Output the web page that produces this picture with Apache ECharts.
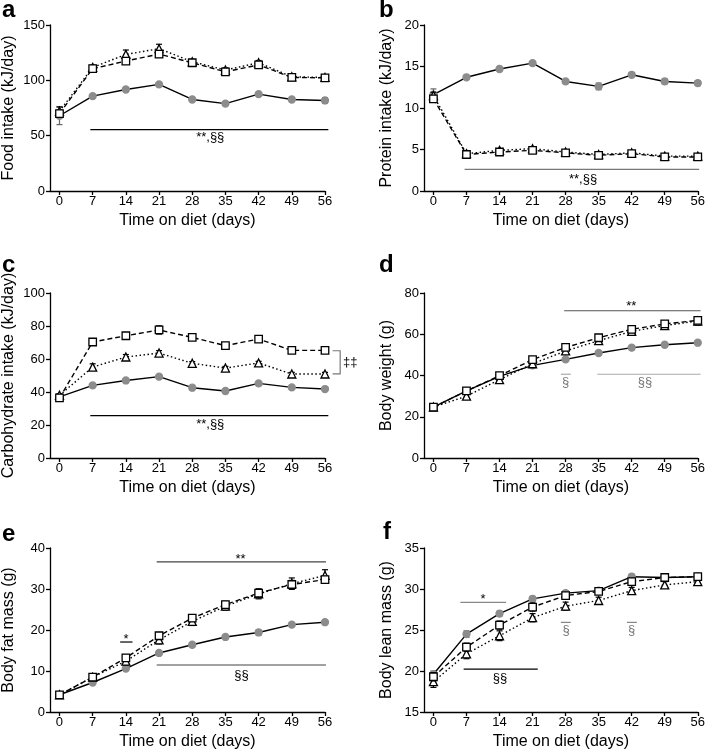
<!DOCTYPE html>
<html><head><meta charset="utf-8">
<script src="https://cdn.jsdelivr.net/npm/echarts@6/dist/echarts.min.js"></script>
<style>html,body{margin:0;padding:0;background:#fff}#c{width:708px;height:752px}</style>
</head><body><div id="c"></div>
<script>
// ---------- data ----------
const days = [0, 7, 14, 21, 28, 35, 42, 49, 56];

// a: food intake (kJ/day)
const foodCtrl = [68, 85.7, 91.7, 96.3, 82.7, 79, 87.5, 82.7, 81.8];
const foodSq   = [70, 110.5, 117.4, 123.7, 115.9, 107.7, 114, 102.6, 102.3];
const foodTri  = [72, 111.7, 123.4, 128.6, 116.8, 109.3, 115.9, 103.2, 102.6];
const foodCtrlErr = [8, 1, 1, 1, 1, 1, 1, 1, 2.5];
const foodSqErr   = [3, 2, 2, 3, 2, 2, 2, 2, 2];
const foodTriErr  = [4, 2, 4, 4, 2, 2, 2, 1, 1];

// b: protein intake (kJ/day)
const protCtrl = [11.6, 13.7, 14.7, 15.4, 13.2, 12.6, 14.0, 13.2, 13.0];
const protSq   = [11.1, 4.4, 4.7, 4.9, 4.6, 4.3, 4.5, 4.1, 4.1];
const protTri  = [11.5, 4.5, 4.9, 5.1, 4.7, 4.4, 4.6, 4.2, 4.2];
const protCtrlErr = [0.7, 0.2, 0.2, 0.2, 0.2, 0.4, 0.2, 0.3, 0.3];
const protSqErr   = [0.4, 0.2, 0.2, 0.2, 0.2, 0.2, 0.2, 0.2, 0.2];
const protTriErr  = [0.4, 0.2, 0.2, 0.2, 0.2, 0.2, 0.2, 0.1, 0.1];

// c: carbohydrate intake (kJ/day)
const carbCtrl = [37, 44, 47, 49.3, 42.6, 40.6, 45.2, 42.8, 41.8];
const carbSq   = [36.4, 70.3, 74.1, 77.6, 73.1, 68.1, 72.1, 65.2, 65.2];
const carbTri  = [38, 55.1, 61.2, 63.6, 57.4, 54.5, 57.6, 50.9, 50.9];
const carbCtrlErr = [1, 0.5, 0.5, 0.5, 0.5, 0.5, 0.5, 0.5, 0.5];
const carbSqErr   = [1.5, 1.5, 1.5, 2.5, 1.5, 1.5, 1.5, 1.5, 1.5];
const carbTriErr  = [1, 2, 1.5, 1.5, 1, 1, 1, 1, 1];

// d: body weight (g)
const bwCtrl = [24.7, 32.5, 39.6, 44.9, 47.8, 50.9, 53.5, 54.9, 55.9];
const bwSq   = [24.7, 32.5, 39.9, 47.7, 53.6, 58.3, 62.4, 65, 66.7];
const bwTri  = [24.7, 30, 38, 45.7, 51.9, 56.9, 61.4, 64.2, 66.4];
const bwCtrlErr = [0.5, 0.5, 0.5, 0.5, 0.5, 0.5, 0.5, 0.5, 0.5];
const bwSqErr   = [1, 1, 1, 1, 1.5, 1.5, 1.5, 1.5, 1.5];
const bwTriErr  = [1, 1.5, 1.5, 1.5, 1.5, 1.5, 1.5, 1.5, 2];

// e: body fat mass (g)
const fatCtrl = [4.2, 7.2, 10.6, 14.4, 16.4, 18.3, 19.4, 21.3, 21.9];
const fatSq   = [4.2, 8.5, 13.2, 18.6, 22.9, 26.2, 29.0, 31.1, 32.3];
const fatTri  = [4.2, 8.5, 12.4, 17.6, 22.1, 25.8, 28.8, 31.3, 33.3];
const fatCtrlErr = [0.3, 0.3, 0.3, 0.3, 0.3, 0.3, 0.6, 0.3, 0.3];
const fatSqErr   = [0.5, 0.5, 0.8, 0.8, 0.8, 0.8, 1, 1, 0.8];
const fatTriErr  = [0.5, 0.5, 1, 1, 1, 1, 1.2, 1.4, 1.4];

// f: body lean mass (g)
const leanCtrl = [19.6, 24.5, 27.0, 28.8, 29.5, 29.8, 31.5, 31.4, 31.5];
const leanSq   = [19.3, 22.9, 25.6, 27.8, 29.2, 29.7, 30.9, 31.4, 31.5];
const leanTri  = [18.7, 22.1, 24.3, 26.5, 27.9, 28.6, 29.8, 30.5, 30.9];
const leanCtrlErr = [0.4, 0.4, 0.3, 0.3, 0.3, 0.3, 0.3, 0.3, 0.3];
const leanSqErr   = [0.5, 0.5, 0.5, 0.5, 0.3, 0.3, 0.4, 0.3, 0.3];
const leanTriErr  = [0.7, 0.6, 0.6, 0.5, 0.5, 0.4, 0.4, 0.4, 0.4];

// significance annotations (data coordinates)
const annA = [{x1: 6.5, x2: 56.7, y: 55.5, c: '#000'}, {tx: 31.8, ty: 48, t: '**,§§'}];
const annB = [{x1: 6.6, x2: 56.3, y: 2.6, c: '#777'}, {tx: 31.7, ty: 1.4, t: '**,§§'}];
const annC = [{x1: 6.5, x2: 56.7, y: 25.7, c: '#000'}, {tx: 31.8, ty: 20.2, t: '**,§§'},
  {pts: [[57.6, 65], [59.2, 65], [59.2, 51], [57.6, 51]], c: '#777'}, {tx: 61.3, ty: 58, t: '‡‡'}];
const annD = [{x1: 27.7, x2: 56.6, y: 71.4, c: '#555'}, {tx: 41.9, ty: 73.4, t: '**'},
  {x1: 27, x2: 29.1, y: 40.6, c: '#aaa'}, {tx: 28, ty: 36.8, t: '§', tc: '#777'},
  {x1: 34.7, x2: 56.6, y: 40.6, c: '#aaa'}, {tx: 44.8, ty: 36.8, t: '§§', tc: '#777'}];
const annE = [{x1: 20.5, x2: 56.2, y: 36.6, c: '#444'}, {tx: 38.2, ty: 37.2, t: '**'},
  {x1: 12.8, x2: 15.4, y: 17.07, c: '#000'}, {tx: 14.05, ty: 17.7, t: '*'},
  {x1: 20.5, x2: 56.2, y: 11.46, c: '#444'}, {tx: 38.4, ty: 9.0, t: '§§'}];
const annF = [{x1: 5.7, x2: 15.4, y: 28.37, c: '#888'}, {tx: 10.5, ty: 28.7, t: '*'},
  {x1: 6.4, x2: 22.1, y: 20.24, c: '#000'}, {tx: 14.1, ty: 19.1, t: '§§'},
  {x1: 27, x2: 29.1, y: 25.93, c: '#888'}, {tx: 28.1, ty: 24.95, t: '§', tc: '#777'},
  {x1: 41, x2: 43.1, y: 25.93, c: '#888'}, {tx: 42, ty: 24.95, t: '§', tc: '#777'}];

// ---------- layout ----------
const FONT = '"Liberation Sans", Arial, Helvetica, sans-serif';
const panels = [
  {letter: 'a', lx: 2, ly: 10.4, yName: 'Food intake (kJ/day)', min: 0, max: 150, step: 50,
   s: [foodCtrl, foodSq, foodTri], e: [foodCtrlErr, foodSqErr, foodTriErr], ann: annA,
   grid: {left: 50, top: 25, width: 275, height: 166}, gap: 33},
  {letter: 'b', lx: 379, ly: 10.4, yName: 'Protein intake (kJ/day)', min: 0, max: 20, step: 5,
   s: [protCtrl, protSq, protTri], e: [protCtrlErr, protSqErr, protTriErr], ann: annB,
   grid: {left: 424, top: 25, width: 277, height: 166}, gap: 29.5},
  {letter: 'c', lx: 2, ly: 265.4, yName: 'Carbohydrate intake (kJ/day)', min: 0, max: 100, step: 20,
   s: [carbCtrl, carbSq, carbTri], e: [carbCtrlErr, carbSqErr, carbTriErr], ann: annC,
   grid: {left: 50, top: 293, width: 275, height: 165}, gap: 33},
  {letter: 'd', lx: 379, ly: 265.4, yName: 'Body weight (g)', min: 0, max: 80, step: 20,
   s: [bwCtrl, bwSq, bwTri], e: [bwCtrlErr, bwSqErr, bwTriErr], ann: annD,
   grid: {left: 424, top: 293, width: 277, height: 165}, gap: 29},
  {letter: 'e', lx: 2, ly: 534.4, yName: 'Body fat mass (g)', min: 0, max: 40, step: 10,
   s: [fatCtrl, fatSq, fatTri], e: [fatCtrlErr, fatSqErr, fatTriErr], ann: annE,
   grid: {left: 50, top: 548, width: 275, height: 164}, gap: 33},
  {letter: 'f', lx: 383, ly: 532.4, yName: 'Body lean mass (g)', min: 15, max: 35, step: 5,
   s: [leanCtrl, leanSq, leanTri], e: [leanCtrlErr, leanSqErr, leanTriErr], ann: annF,
   grid: {left: 424, top: 548, width: 277, height: 164}, gap: 29}
];

const styles = [
  {symbol: 'circle', size: 7, fill: '#8c8c8c', border: '#8c8c8c', dash: 'solid', err: '#666', z: 3},
  {symbol: 'rect', size: 7.5, fill: '#fff', border: '#000', dash: [5, 3], err: '#000', z: 5},
  {symbol: 'triangle', size: 8, fill: '#fff', border: '#000', dash: [1.5, 2.5], err: '#000', z: 4}
];

function errRender(color) {
  return function (params, api) {
    const x = api.value(0), lo = api.value(1), hi = api.value(2);
    const p1 = api.coord([x, lo]), p2 = api.coord([x, hi]);
    const w = 3;
    const st = {stroke: color, lineWidth: 1.2};
    return {type: 'group', children: [
      {type: 'line', shape: {x1: p1[0], y1: p1[1], x2: p2[0], y2: p2[1]}, style: st},
      {type: 'line', shape: {x1: p1[0] - w, y1: p1[1], x2: p1[0] + w, y2: p1[1]}, style: st},
      {type: 'line', shape: {x1: p2[0] - w, y1: p2[1], x2: p2[0] + w, y2: p2[1]}, style: st}
    ]};
  };
}

function annRender(anns) {
  return function (params, api) {
    const a = anns[params.dataIndex];
    if (a.pts) {
      return {type: 'polyline', shape: {points: a.pts.map(p => api.coord(p))},
        style: {stroke: a.c, lineWidth: 1.2, fill: null}};
    }
    if (a.t !== undefined) {
      const p = api.coord([a.tx, a.ty]);
      return {type: 'text', x: p[0], y: p[1],
        style: {text: a.t, fill: a.tc || '#000', font: '13px ' + FONT, align: 'center', verticalAlign: 'middle'}};
    }
    const p1 = api.coord([a.x1, a.y]), p2 = api.coord([a.x2, a.y]);
    return {type: 'line', shape: {x1: p1[0], y1: p1[1], x2: p2[0], y2: p2[1]},
      style: {stroke: a.c, lineWidth: 1.2}};
  };
}

const option = {
  animation: false,
  backgroundColor: '#fff',
  textStyle: {fontFamily: FONT},
  grid: [], xAxis: [], yAxis: [], series: [], graphic: []
};

panels.forEach((p, i) => {
  option.grid.push(Object.assign({containLabel: false}, p.grid));
  option.xAxis.push({
    gridIndex: i, type: 'value', min: -2, max: 56,
    name: 'Time on diet (days)', nameLocation: 'middle', nameGap: 22,
    nameTextStyle: {fontSize: 16, color: '#000', fontFamily: FONT},
    axisLine: {show: true, onZero: false, lineStyle: {color: '#000', width: 1.3}},
    axisTick: {show: true, customValues: days, length: 4, lineStyle: {color: '#000', width: 1.3}},
    axisLabel: {customValues: days, fontSize: 13, color: '#000', margin: 4, fontFamily: FONT},
    splitLine: {show: false}
  });
  option.yAxis.push({
    gridIndex: i, type: 'value', min: p.min, max: p.max, interval: p.step,
    name: p.yName, nameLocation: 'middle', nameGap: p.gap,
    nameTextStyle: {fontSize: 16, color: '#000', fontFamily: FONT},
    axisLine: {show: true, onZero: false, lineStyle: {color: '#000', width: 1.3}},
    axisTick: {show: true, length: 4, lineStyle: {color: '#000', width: 1.3}},
    axisLabel: {fontSize: 13, color: '#000', margin: 5, fontFamily: FONT},
    splitLine: {show: false}
  });
  p.s.forEach((vals, k) => {
    const st = styles[k];
    option.series.push({
      type: 'custom', xAxisIndex: i, yAxisIndex: i, z: st.z - 0.5, silent: true, clip: false,
      renderItem: errRender(st.err), encode: {x: 0, y: [1, 2]},
      data: days.map((d, j) => [d, vals[j] - p.e[k][j], vals[j] + p.e[k][j]])
    });
    option.series.push({
      type: 'line', xAxisIndex: i, yAxisIndex: i, z: st.z, silent: true,
      data: days.map((d, j) => [d, vals[j]]),
      symbol: st.symbol, symbolSize: st.size, showSymbol: true,
      lineStyle: {color: '#000', width: 1.4, type: st.dash},
      itemStyle: {color: st.fill, borderColor: st.border, borderWidth: 1.3}
    });
  });
  option.series.push({
    type: 'custom', xAxisIndex: i, yAxisIndex: i, z: 6, silent: true, clip: false,
    renderItem: annRender(p.ann),
    data: p.ann.map(a => [a.x1 !== undefined ? a.x1 : (a.tx !== undefined ? a.tx : a.pts[0][0]),
                          a.y !== undefined ? a.y : (a.ty !== undefined ? a.ty : a.pts[0][1])])
  });
  option.graphic.push({
    type: 'text', left: p.lx, top: p.ly - 12,
    style: {text: p.letter, font: 'bold 24px ' + FONT, fill: '#000'}
  });
});

const chart = echarts.init(document.getElementById('c'), null, {renderer: 'canvas'});
chart.setOption(option);
</script>
</body></html>
